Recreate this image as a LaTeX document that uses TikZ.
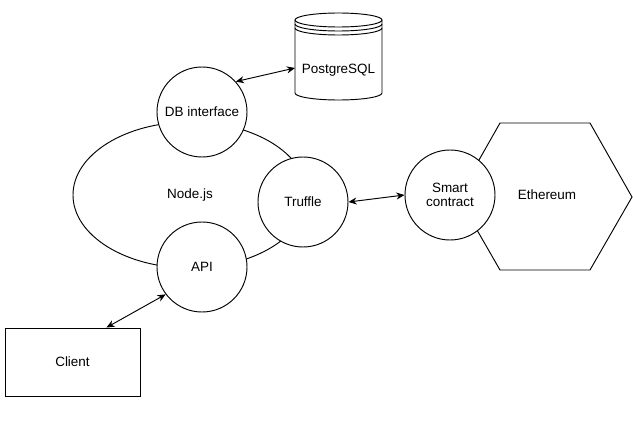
\documentclass[tikz,border=0pt]{standalone}
\usepackage{fontspec}
\setmainfont{Liberation Sans}
\usetikzlibrary{shapes.geometric,arrows.meta,calc}

\tikzset{
  circ/.style={circle, draw, fill=white, minimum size=2.7cm, inner sep=0pt, align=center},
  conn/.style={{Stealth[length=7pt,width=6pt]}-{Stealth[length=7pt,width=6pt]}, line width=0.8pt},
}

\begin{document}
\begin{tikzpicture}[x=0.03cm, y=-0.03cm, line width=0.8pt, font=\fontsize{11.5}{13}\selectfont]
        \useasboundingbox (0,0) rectangle (633,424);

        % Node.js ellipse, behind the circles
        \node [ellipse, draw, minimum width=7.02cm, minimum height=4.38cm] (nodejs) at (190,195) {};
        \node at (190,195) {Node.js};

        % database cylinder
        \draw (338.5,20) ellipse [x radius=43.5, y radius=7];
        \draw (295,24) arc[start angle=180, end angle=0, x radius=43.5, y radius=7];
        \draw (295,28) arc[start angle=180, end angle=0, x radius=43.5, y radius=7];
        \draw (295,20) -- (295,93) arc[start angle=180, end angle=0, x radius=43.5, y radius=7] -- (382,20);
        \node (pg) at (338.5,70) {PostgreSQL};
        \coordinate (pgin) at (295,68);

        % ethereum hexagon
        \draw (458,197) -- (500,123) -- (590,123) -- (632,197) -- (590,270) -- (500,270) -- cycle;
        \node (eth) at (547,195) {Ethereum};

        % circles
        \node [circ] (db) at (202,112) {DB interface};
        \node [circ] (truffle) at (303,202) {Truffle};
        \node [circ] (api) at (202,267) {API};
        \node [circ] (sc) at (450,195) {Smart\\[-1pt]contract};

        % client
        \node [draw, minimum width=4.05cm, minimum height=2.04cm] (client) at (72.5,362) {Client};

        % connectors
        \draw [conn] (db.42) -- (pgin);
        \draw [conn] (truffle.east) -- (sc.west);
        \draw [conn] (api.217) -- ($(client.north)!0.5!(client.north east)$);
\end{tikzpicture}
\end{document}
